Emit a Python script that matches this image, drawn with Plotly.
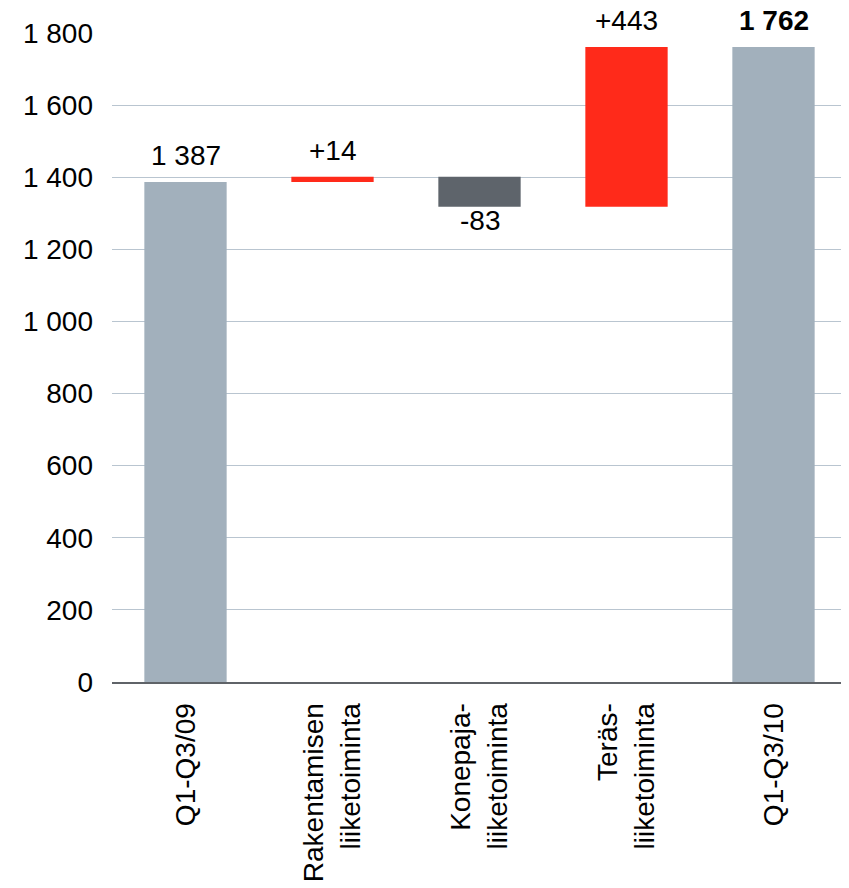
import plotly.graph_objects as go

categories = ["Q1-Q3/09", "Rakentamisen<br>liiketoiminta", "Konepaja-<br>liiketoiminta",
              "Teräs-<br>liiketoiminta", "Q1-Q3/10"]
values = [1387, 14, -83, 443, 1762]
measures = ["absolute", "relative", "relative", "relative", "total"]
labels = ["1 387", "+14", "-83", "+443", "<b>1 762</b>"]
y_ticks = [0, 200, 400, 600, 800, 1000, 1200, 1400, 1600, 1800]

FONT = "Liberation Sans, Arial, sans-serif"
FS = 28

fig = go.Figure(go.Waterfall(
    x=categories, y=values, measure=measures,
    cliponaxis=False,
    increasing=dict(marker=dict(color="#FF2A1A")),
    decreasing=dict(marker=dict(color="#5E646B")),
    totals=dict(marker=dict(color="#A2B0BC")),
    connector=dict(visible=False),
))

# label positions at bar ends, computed from the data
running = 0
for cat, v, m, lab in zip(categories, values, measures, labels):
    if m == "absolute":
        running = v
        end = v
    elif m == "relative":
        running += v
        end = running
    else:
        end = running
    if v >= 0:
        fig.add_annotation(x=cat, y=end, text=lab, showarrow=False,
                           yanchor="bottom", yshift=9,
                           font=dict(size=FS, family=FONT, color="#000000"))
    else:
        fig.add_annotation(x=cat, y=end, text=lab, showarrow=False,
                           yanchor="top", yshift=4,
                           font=dict(size=FS, family=FONT, color="#000000"))

fig.update_layout(
    width=849, height=888,
    margin=dict(l=104, r=10, t=25, b=214),
    paper_bgcolor="white", plot_bgcolor="white",
    showlegend=False, waterfallgap=0.44,
    separators=", ",
    font=dict(family=FONT, size=FS, color="#000000"),
)
fig.update_yaxes(range=[0, 1800], tickvals=y_ticks, tickformat=",d",
                 showgrid=True, gridcolor="#B9C5D0", gridwidth=1,
                 zeroline=False, showline=False, ticks="", automargin=False,
                 ticklabelstandoff=18, tickfont=dict(size=FS))
fig.update_xaxes(showline=True, linecolor="#5F6368", linewidth=2,
                 tickangle=-90, ticks="", ticklabelstandoff=8, automargin=False,
                 tickfont=dict(size=FS))

fig.write_html("out.html")
